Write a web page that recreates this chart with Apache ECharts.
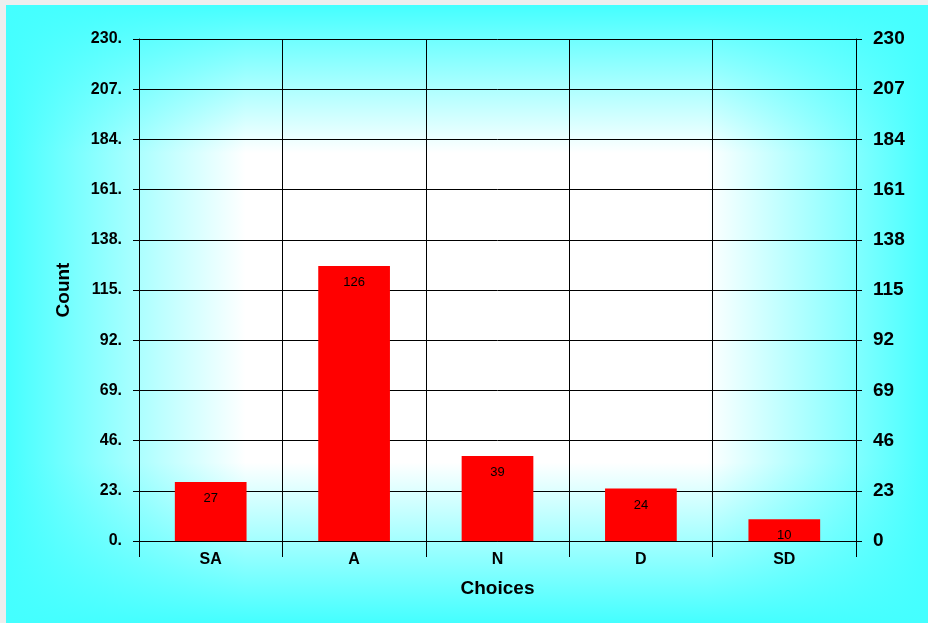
<!DOCTYPE html>
<html>
<head>
<meta charset="utf-8">
<script src="https://cdn.jsdelivr.net/npm/echarts@6/dist/echarts.min.js"></script>
<style>
  html, body { margin: 0; padding: 0; background: #eeeeee; }
  #chart { width: 928px; height: 623px; }
</style>
</head>
<body>
<div id="chart"></div>
<script>
// Survey responses per choice
const categories = ['SA', 'A', 'N', 'D', 'SD'];
const counts = [27, 126, 39, 24, 10];

// Value scale shared by both vertical axes
const yMin = 0;
const yMax = 230;
const yStep = 23;

const FONT = '"Liberation Sans", Arial, sans-serif';
const CYAN = '#44ffff';
const CYAN_CLEAR = 'rgba(68,255,255,0)';

const chart = echarts.init(document.getElementById('chart'), null, { renderer: 'canvas' });

chart.setOption({
  animation: false,
  backgroundColor: '#eeeeee',
  graphic: [
    {
      // horizontal fade: cyan edges, white middle
      type: 'rect', z: -10, silent: true,
      shape: { x: 6, y: 5, width: 922, height: 618 },
      style: {
        fill: new echarts.graphic.LinearGradient(0, 0, 1, 0, [
          { offset: 0, color: CYAN },
          { offset: 0.26, color: '#ffffff' },
          { offset: 0.76, color: '#ffffff' },
          { offset: 1, color: CYAN }
        ])
      }
    },
    {
      // vertical fade laid on top
      type: 'rect', z: -9, silent: true,
      shape: { x: 6, y: 5, width: 922, height: 618 },
      style: {
        fill: new echarts.graphic.LinearGradient(0, 0, 0, 1, [
          { offset: 0, color: CYAN },
          { offset: 0.24, color: CYAN_CLEAR },
          { offset: 0.74, color: CYAN_CLEAR },
          { offset: 1, color: CYAN }
        ])
      }
    }
  ],
  grid: { left: 139, right: 72, top: 39, bottom: 82, containLabel: false },
  xAxis: {
    type: 'category',
    data: categories,
    boundaryGap: true,
    axisLine: { show: true, lineStyle: { color: '#000', width: 1 } },
    axisTick: { show: true, length: 16, alignWithLabel: false, lineStyle: { color: '#000', width: 1 } },
    splitLine: { show: true, lineStyle: { color: '#000', width: 1 } },
    axisLabel: { color: '#000', fontFamily: FONT, fontWeight: 'bold', fontSize: 16, margin: 11 },
    name: 'Choices',
    nameLocation: 'middle',
    nameGap: 38,
    nameTextStyle: { color: '#000', fontFamily: FONT, fontWeight: 'bold', fontSize: 19 }
  },
  yAxis: [
    {
      type: 'value',
      position: 'left',
      min: yMin, max: yMax, interval: yStep,
      axisLine: { show: true, lineStyle: { color: '#000', width: 1 } },
      axisTick: { show: true, length: 6, lineStyle: { color: '#000', width: 1 } },
      splitLine: { show: true, lineStyle: { color: '#000', width: 1 } },
      axisLabel: {
        color: '#000', fontFamily: FONT, fontWeight: 'bold', fontSize: 16, margin: 17,
        padding: [3, 0, 0, 0],
        formatter: v => v + '.'
      },
      name: 'Count',
      nameLocation: 'middle',
      nameGap: 66,
      nameTextStyle: { color: '#000', fontFamily: FONT, fontWeight: 'bold', fontSize: 19 }
    },
    {
      type: 'value',
      position: 'right',
      min: yMin, max: yMax, interval: yStep,
      axisLine: { show: true, lineStyle: { color: '#000', width: 1 } },
      axisTick: { show: true, length: 6, lineStyle: { color: '#000', width: 1 } },
      splitLine: { show: false },
      axisLabel: {
        color: '#000', fontFamily: FONT, fontWeight: 'bold', fontSize: 19, margin: 17,
        padding: [3, 0, 0, 0]
      }
    }
  ],
  series: [
    {
      type: 'bar',
      data: counts,
      yAxisIndex: 0,
      barWidth: '50%',
      itemStyle: { color: '#ff0000' },
      label: {
        show: true,
        position: 'insideTop',
        distance: 10,
        color: '#000',
        fontFamily: FONT,
        fontSize: 13
      }
    }
  ]
});
</script>
</body>
</html>
